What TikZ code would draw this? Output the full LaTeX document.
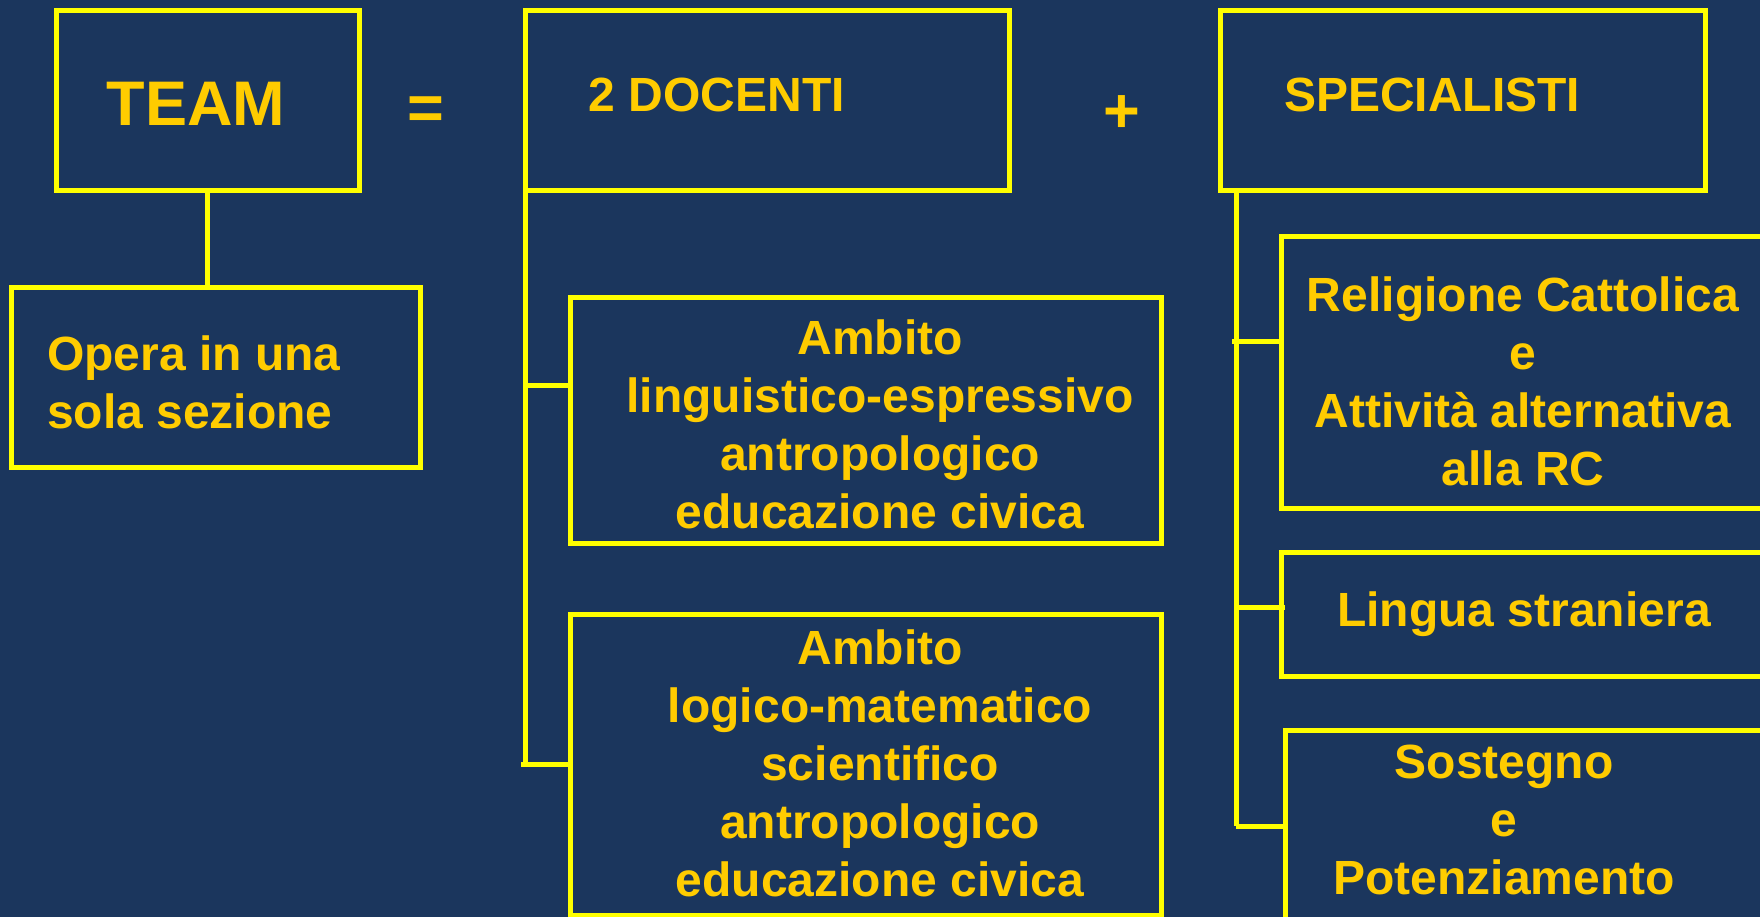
\documentclass[tikz,border=0pt]{standalone}
\usepackage{fontspec}
\setmainfont{Liberation Sans}
\usepackage{xcolor}
\usepackage{tikz}

\definecolor{navy}{RGB}{27,54,93}
\definecolor{lineyellow}{RGB}{255,255,0}
\definecolor{textgold}{RGB}{255,204,0}

\begin{document}
\begin{tikzpicture}[
      x=1pt, y=-1pt,
      box/.style={draw=lineyellow,line width=5pt,anchor=north west,inner sep=0pt,outer sep=0pt},
      txt/.style={text=textgold,font=\fontsize{48}{58}\selectfont\bfseries,align=center,inner sep=0pt},
      big/.style={text=textgold,font=\fontsize{63}{70}\selectfont\bfseries,inner sep=0pt},
      link/.style={draw=lineyellow,line width=5pt}
  ]
      \useasboundingbox (0,0) rectangle (1760,917);
      \fill[navy] (0,0) rectangle (1760,917);
      \clip (0,0) rectangle (1760,917);

      % riquadri in alto
      \node[box,minimum width=303pt,minimum height=180pt] (team) at (56,11) {};
      \node[box,minimum width=484pt,minimum height=180pt] (doc)  at (525,11) {};
      \node[box,minimum width=485pt,minimum height=180pt] (spec) at (1220,11) {};
      \node[big] (teamtxt) at (196,104) {TEAM};
      \node[txt] (doctxt)  at (717,95) {2 DOCENTI};
      \node[txt] (spectxt) at (1432,95) {SPECIALISTI};
      \node[big] (eq)   at (426,113) {=};
      \node[big] (plus) at (1122,114) {+};

      % team
      \node[box,minimum width=409pt,minimum height=180pt] (opera) at (11,287) {};
      \node[txt,align=left,anchor=west] (operatxt) at (47,382) {Opera in una\\sola sezione};

      % docenti
      \node[box,minimum width=591pt,minimum height=246pt] (amb1) at (570,297) {};
      \node[box,minimum width=591pt,minimum height=301pt] (amb2) at (570,614) {};
      \node[txt] (amb1txt) at (880,424) {Ambito\\linguistico-espressivo\\antropologico\\educazione civica};
      \node[txt] (amb2txt) at (880,763) {Ambito\\logico-matematico\\scientifico\\antropologico\\educazione civica};

      % specialisti
      \node[box,minimum width=500pt,minimum height=271pt] (rel)  at (1281,237) {};
      \node[box,minimum width=500pt,minimum height=124pt] (ling) at (1281,552) {};
      \node[box,minimum width=500pt,minimum height=220pt] (sost) at (1285,730) {};
      \node[txt] (reltxt)  at (1523,381) {Religione Cattolica\\e\\Attività alternativa\\alla RC};
      \node[txt] (lingtxt) at (1524,614) {Lingua straniera};
      \node[txt] (sosttxt) at (1504,820) {Sostegno\\e\\Potenziamento};

      % collegamenti
      \coordinate (docbus) at (525,191);
      \coordinate (specbus) at (1236,191);
      \draw[link] (team.south) -- (team.south |- opera.north);
      \draw[link] (docbus) -- (docbus |- amb2.west);
      \draw[link] ([xshift=-4pt]docbus |- amb2.west) -- (amb2.west);
      \draw[link] (docbus |- 0,385) -- (amb1.west |- 0,385);
      \draw[link] (specbus) -- (specbus |- 0,826);
      \draw[link] ([xshift=-4pt]specbus |- 0,341) -- (rel.west |- 0,341);
      \draw[link] (specbus |- 0,607) -- ([xshift=4pt]ling.west |- 0,607);
      \draw[link] (specbus |- 0,826) -- (sost.west |- 0,826);
  \end{tikzpicture}
\end{document}
